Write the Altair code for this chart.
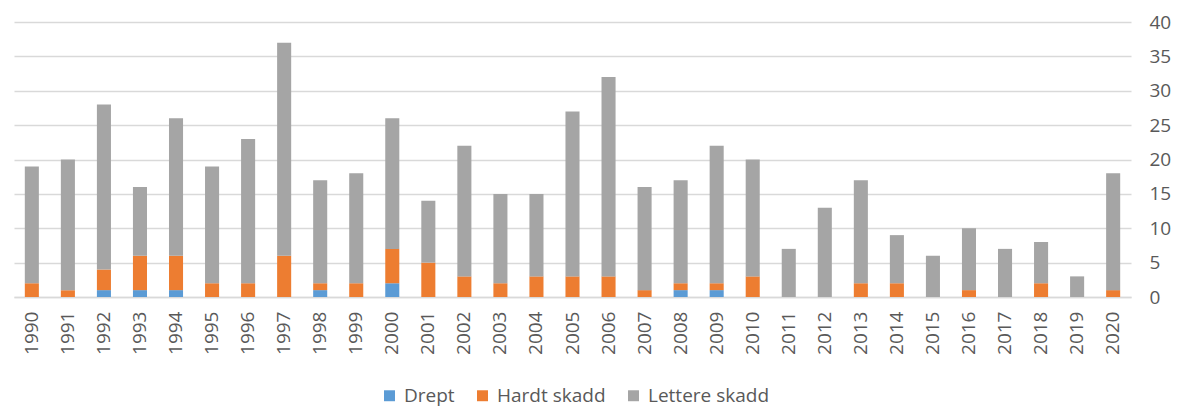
import altair as alt
import pandas as pd

years = [str(y) for y in range(1990, 2021)]
totals = [19, 20, 28, 16, 26, 19, 23, 37, 17, 18, 26, 14, 22, 15, 15, 27, 32, 16, 17, 22, 20, 7, 13, 17, 9, 6, 10, 7, 8, 3, 18]
drept = [0, 0, 1, 1, 1, 0, 0, 0, 1, 0, 2, 0, 0, 0, 0, 0, 0, 0, 1, 1, 0, 0, 0, 0, 0, 0, 0, 0, 0, 0, 0]
hardt = [2, 1, 3, 5, 5, 2, 2, 6, 1, 2, 5, 5, 3, 2, 3, 3, 3, 1, 1, 1, 3, 0, 0, 2, 2, 0, 1, 0, 2, 0, 1]
lettere = [t - d - h for t, d, h in zip(totals, drept, hardt)]

series = ["Drept", "Hardt skadd", "Lettere skadd"]
colors = ["#5B9BD5", "#ED7D31", "#A5A5A5"]

rows = []
for i, y in enumerate(years):
    for k, (s, v) in enumerate(zip(series, [drept[i], hardt[i], lettere[i]])):
        rows.append({"year": y, "series": s, "value": v, "ord": k})
df = pd.DataFrame(rows)

FONT = "Open Sans"

chart = alt.Chart(df).mark_bar().encode(
    x=alt.X("year:N", sort=years, title=None,
            scale=alt.Scale(paddingInner=0.61, paddingOuter=0.3),
            axis=alt.Axis(labelAngle=-90, labelFontSize=19, labelColor="#595959",
                          labelFont=FONT, ticks=False, domain=True, domainColor="#D9D9D9",
                          domainWidth=1.5, labelPadding=14, grid=False)),
    y=alt.Y("value:Q", title=None, stack="zero",
            scale=alt.Scale(domain=[0, 40]),
            axis=alt.Axis(orient="right", values=list(range(0, 41, 5)), labelFontSize=19,
                          labelColor="#595959", labelFont=FONT, ticks=False, domain=False,
                          gridColor="#D9D9D9", gridWidth=1.5, labelPadding=18)),
    color=alt.Color("series:N", sort=series,
                    scale=alt.Scale(domain=series, range=colors),
                    legend=alt.Legend(title=None, orient="none", direction="horizontal",
                                      legendX=366, legendY=364, symbolType="square",
                                      symbolSize=120, symbolStrokeWidth=0,
                                      labelFontSize=19, labelColor="#595959", labelFont=FONT,
                                      columnPadding=18, labelOffset=5)),
    order=alt.Order("ord:Q", sort="ascending"),
).properties(
    width=1117, height=275,
    autosize=alt.AutoSizeParams(type="none"),
    padding={"left": 6, "top": 14, "right": 42, "bottom": 114},
).configure_view(stroke=None)

chart.save("out.html", embed_options={"renderer": "svg", "actions": False})
